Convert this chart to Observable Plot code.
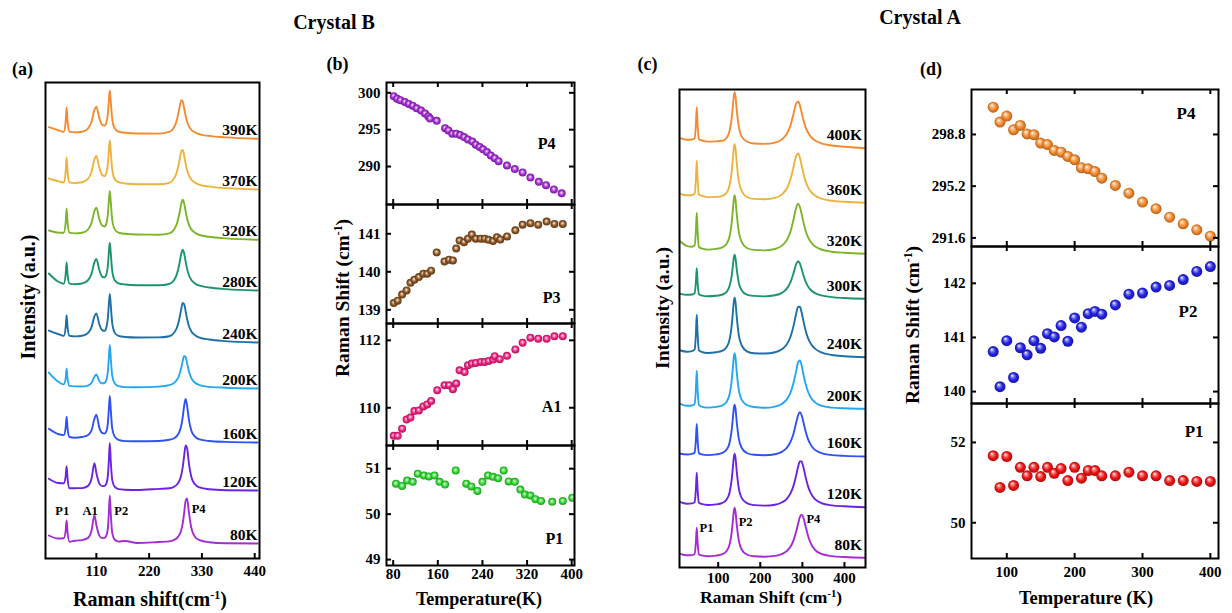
<!DOCTYPE html>
<html><head><meta charset="utf-8">
<script src="https://cdn.jsdelivr.net/npm/d3@7"></script>
<script src="https://cdn.jsdelivr.net/npm/@observablehq/plot@0.6"></script>
<style>
body{margin:0;background:#fff;}
#fig{position:relative;width:1232px;height:613px;overflow:hidden;font-family:'Liberation Serif','Times New Roman',Times,serif;font-weight:bold;color:#000;}
#fig svg{position:absolute;overflow:visible;}
.lbl{position:absolute;transform:translate(-50%,-50%);white-space:nowrap;line-height:1;}
.rot{transform:translate(-50%,-50%) rotate(-90deg);}
sup{font-size:0.6em;vertical-align:0.6em;line-height:0;}
</style></head><body>
<div id="fig"></div>
<script>
// ================= DATA =================
// ---- Panel (a): Crystal B Raman spectra (Raman shift in cm^-1, intensity in a.u.) ----
const shiftA = [11,30,42,46,48,50,54,65,80,92,100,106,110,116,122,127,131,134,136,138,140,143,148,156,170,195,240,262,272,278,283,287,290,293,296,299,303,308,315,325,345,380,446];
const tempsA = ["390K","370K","320K","280K","240K","200K","160K","120K","80K"];
const stackA = [419.7,369,318.7,268,216,170,116,68,15];
const a390 = [11.6,8.6,7.0,17.1,31.4,17.1,7.1,6.4,7.1,10.0,17.0,28.8,32.1,21.1,14.1,13.2,16.3,25.1,37.8,48.3,37.3,19.9,10.6,7.2,6.0,5.3,5.2,6.9,11.6,19.1,30.5,38.6,37.3,30.5,23.1,17.4,12.5,9.0,6.6,4.5,2.9,1.4,0];
const a370 = [11.0,8.3,7.0,17.6,32.4,17.6,7.1,6.4,7.2,10.3,17.7,30.1,33.6,22.0,14.5,13.5,16.7,25.6,38.7,49.0,38.2,20.4,10.7,7.3,6.0,5.3,5.2,6.7,11.1,17.8,28.6,38.3,39.6,33.9,26.0,19.5,13.8,9.8,7.0,4.7,2.9,1.4,0];
const a320 = [9.3,7.2,7.0,17.1,31.4,17.1,7.1,6.4,7.1,10.0,17.0,28.8,32.1,21.1,14.2,13.3,16.4,25.6,38.6,48.9,38.1,20.3,10.7,7.2,6.0,5.3,5.1,6.5,10.4,16.3,26.0,36.3,40.0,36.3,28.6,21.5,15.0,10.4,7.3,4.8,3.0,1.4,0];
const a280 = [17.0,9.0,6.8,15.8,28.4,15.8,6.9,6.3,7.0,10.0,16.8,28.4,31.6,20.8,13.9,13.1,16.2,25.0,37.9,47.8,37.4,19.9,10.5,7.2,6.0,5.3,5.2,6.5,10.5,16.6,26.5,36.9,40.7,36.9,29.1,21.9,15.2,10.5,7.3,4.8,3.0,1.4,0];
const a240 = [12.0,8.5,6.6,15.2,27.3,15.2,6.7,6.1,6.7,9.3,15.4,26.2,29.1,18.5,12.4,11.6,15.3,24.7,38.0,48.5,37.7,19.6,10.1,6.6,5.5,5.0,5.1,6.3,9.8,15.0,23.7,33.9,39.6,38.3,31.3,23.7,16.3,11.1,7.6,4.9,3.0,1.4,0];
const a200 = [16.0,7.0,4.1,9.8,20.0,9.8,2.6,2.1,2.0,2.9,5.6,11.8,14.0,7.4,5.1,5.6,8.8,17.1,30.7,43.5,30.5,13.1,5.2,2.3,1.4,1.3,1.9,3.3,5.6,8.7,13.8,20.9,27.7,32.6,31.5,25.4,17.0,10.3,6.0,3.3,1.6,0.8,0];
const a160 = [13.7,8.5,7.4,14.9,25.7,13.9,5.5,4.8,5.5,7.3,12.1,23.7,27.8,15.1,9.6,8.9,11.3,19.8,33.3,46.5,33.0,14.3,6.1,2.7,1.4,1.2,1.5,2.7,4.3,6.6,10.6,17.0,25.5,36.9,43.5,36.9,22.3,11.8,6.1,3.1,1.5,0.6,0];
const a120 = [11.7,7.5,7.2,14.1,24.3,12.1,2.2,2.3,2.4,4.4,12.0,27.3,17.5,7.1,4.4,4.7,7.2,14.7,29.8,47.6,29.6,10.6,3.8,1.4,0.8,0.5,1.6,2.2,3.8,6.0,9.6,15.5,23.3,34.8,45.1,42.6,26.7,13.6,6.5,3.1,1.2,0.3,0];
const a80  = [8.0,5.0,5.2,12.5,23.0,11.0,1.7,2.8,3.4,5.4,13.0,28.3,18.5,8.1,5.4,5.7,8.2,15.2,30.3,48.1,30.1,10.8,4.0,1.9,2.5,0.5,1.5,2.1,3.6,5.5,8.6,13.6,20.2,30.6,42.6,45.1,30.6,15.5,7.1,3.3,1.3,0.3,0];
const ticksA = [110,220,330,440];

// ---- Panel (b): Crystal B mode positions vs temperature ----
const tP4b = [81,87,93,101,108,115,122,130,137,143,146,158,173,179,186,193,200,207,214,222,228,235,241,248,255,262,269,284,298,312,326,341,354,368,382];
const vP4b = [299.55,299.2,299.0,298.76,298.5,298.26,297.9,297.6,297.2,296.8,296.5,296.2,295.2,294.9,294.45,294.45,294.27,294.0,293.67,293.4,292.97,292.66,292.34,291.97,291.5,291.14,290.73,290.13,289.67,289.2,288.5,287.93,287.47,286.9,286.36];
const tP3b = [81,88,96,104,111,118,126,134,141,148,158,172,180,187,193,199,207,214,221,228,237,244,251,259,266,272,284,299,312,326,340,355,369,384];
const vP3b = [139.18,139.24,139.40,139.51,139.71,139.79,139.86,139.95,139.95,140.03,140.51,140.27,140.32,140.30,140.61,140.82,140.78,140.87,140.98,140.87,140.87,140.87,140.84,140.81,140.91,140.85,140.93,141.09,141.24,141.28,141.24,141.32,141.26,141.26];
const tA1b = [81,88,96,104,111,118,126,134,141,148,159,172,180,187,193,199,208,214,221,228,237,244,251,259,262,271,284,299,312,326,340,355,369,384];
const vA1b = [109.17,109.17,109.38,109.65,109.71,109.90,109.92,110.04,110.10,110.20,110.52,110.67,110.67,110.55,110.72,111.11,111.06,111.26,111.31,111.33,111.36,111.36,111.39,111.43,111.53,111.44,111.54,111.73,111.93,112.08,112.05,112.05,112.12,112.12];
const tP1b = [85,96,105,115,124,135,144,154,163,173,192,211,220,231,240,250,259,268,278,287,298,308,316,326,335,345,365,384,401];
const vP1b = [50.67,50.62,50.74,50.71,50.89,50.85,50.83,50.85,50.71,50.65,50.96,50.67,50.61,50.51,50.71,50.85,50.82,50.79,50.96,50.72,50.71,50.54,50.43,50.41,50.33,50.29,50.27,50.29,50.36];
const ticksTb = [80,160,240,320,400];

// ---- Panel (c): Crystal A Raman spectra ----
const shiftC = [10,25,38,44,47,49,51,54,60,75,95,110,120,127,132,135,137,139,141,144,149,156,168,185,210,235,252,263,272,279,285,290,294,298,302,307,313,320,330,345,370,400,450];
const tempsC = ["400K","360K","320K","300K","240K","200K","160K","120K","80K"];
const stackC = [419.3,364.7,313.7,268.7,210.3,158.7,111,60.3,9.7];
const c400 = [10,8.5,8.7,10.0,24.0,41.0,23.8,9.2,7.8,6.6,6.8,7.4,10.2,17.2,30.0,43.2,52.1,56.0,52.1,38.4,21.1,11.6,6.7,4.7,4.3,5.6,9.1,14.4,23.2,34.4,44.3,46.8,43.0,36.2,29.1,21.8,15.9,11.5,7.7,4.9,2.7,1.4,0];
const c360 = [9.0,7.5,7.6,9.1,24.0,42.0,23.8,8.5,7.1,5.7,5.9,7.0,10.1,17.5,31.0,45.0,54.4,58.5,54.4,39.9,21.6,11.6,5.8,3.9,3.5,4.9,8.7,14.3,23.8,35.9,46.6,49.3,45.2,37.9,30.2,22.4,15.9,11.2,7.2,4.1,2.0,1.0,0];
const c320 = [12.3,8.0,7.1,8.4,23.0,41.0,22.5,6.9,5.4,4.2,4.9,6.5,10.1,17.5,31.0,45.0,54.4,58.5,54.4,39.9,21.6,11.6,5.8,3.9,3.4,4.8,8.4,13.7,22.6,34.3,45.6,50.0,47.1,40.2,32.4,24.0,17.0,11.8,7.6,4.3,2.1,1.0,0];
const c300 = [5.0,4.0,4.3,5.7,17.0,30.5,16.5,4.7,3.4,2.5,3.0,4.3,7.0,12.7,23.0,33.7,40.9,44.0,40.9,29.8,15.8,8.4,4.1,2.9,2.4,3.5,6.2,10.2,16.9,25.7,34.3,37.6,35.4,30.2,24.3,18.0,12.7,8.8,5.7,3.4,1.7,0.8,0];
const c240 = [6.7,5.5,6.1,7.8,23.6,42.5,23.3,7.0,5.4,4.2,4.9,6.6,10.2,17.7,31.5,45.7,55.3,59.5,55.3,40.6,21.9,11.7,5.9,3.9,3.7,4.9,8.1,12.9,20.7,31.3,43.2,50.5,50.5,45.1,37.2,27.8,19.6,13.5,8.6,4.8,2.2,1.0,0];
const c200 = [5.0,3.0,3.3,4.9,20.0,38.0,19.5,3.9,2.1,1.2,1.9,3.5,7.1,14.5,28.0,42.0,51.4,55.5,51.4,36.9,18.6,8.9,3.8,1.8,1.0,2.2,5.1,9.4,16.4,26.0,37.2,46.8,48.3,44.0,35.3,26.0,17.5,11.3,6.4,3.1,1.2,0.5,0];
const c160 = [2.7,2.0,2.6,4.0,17.0,32.5,16.8,3.5,2.2,1.4,2.1,3.6,6.9,13.8,26.3,39.3,48.0,51.8,48.0,34.6,17.6,8.5,3.5,1.7,1.3,2.3,4.9,8.7,14.8,23.1,33.4,41.5,44.2,41.5,35.2,26.3,17.9,11.6,6.6,3.4,1.4,0.6,0];
const c120 = [5.0,3.5,3.8,5.1,18.4,34.4,18.2,4.6,3.3,2.2,2.8,4.4,7.7,14.7,27.5,40.7,49.6,53.5,49.6,35.9,18.6,9.1,4.1,2.1,1.6,2.5,5.0,8.4,14.0,21.6,31.4,40.7,45.8,45.8,40.7,31.4,21.6,14.0,8.0,4.1,1.8,0.9,0];
const c80  = [4.0,2.5,2.7,3.9,15.8,30.0,15.7,3.5,2.4,1.6,2.2,3.7,6.9,13.4,25.5,37.9,46.3,50.0,46.3,33.4,17.1,8.1,3.3,1.5,1.1,1.9,4.0,6.8,11.3,17.5,25.7,34.4,40.6,43.2,40.6,32.6,22.6,14.4,8.0,4.0,1.7,0.8,0];
const ticksC = [100,200,300,400];

// ---- Panel (d): Crystal A mode positions vs temperature ----
const tempD = [80,90,100,110,120,130,140,150,160,170,180,190,200,210,220,230,240,260,280,300,320,340,360,380,400];
const p4D = [300.70,299.66,300.08,299.12,299.43,298.84,298.78,298.20,298.10,297.69,297.57,297.27,297.04,296.48,296.41,296.22,295.76,295.25,294.71,294.09,293.63,293.04,292.58,292.16,291.72];
const p2D = [140.74,140.09,140.94,140.26,140.81,140.68,140.94,140.80,141.07,141.01,141.22,140.93,141.36,141.19,141.44,141.48,141.43,141.60,141.80,141.82,141.93,141.96,142.07,142.22,142.31];
const p1D = [51.67,50.88,51.65,50.93,51.38,51.17,51.38,51.15,51.38,51.23,51.35,51.05,51.38,51.11,51.30,51.30,51.17,51.17,51.26,51.17,51.17,51.05,51.05,51.03,51.03];
const ticksTd = [100,200,300,400];

// ================= STYLE =================
const colorsA = ["#f58a30","#eeb33d","#7cb52c","#1b9470","#1d70a8","#25a8f0","#2e52f4","#6b24e0","#a42cd2"];
const colorsC = ["#f58a30","#eeb33d","#7cb52c","#1b9470","#1d70a8","#25a8f0","#2e52f4","#6b24e0","#a42cd2"];
const FONT = "'Liberation Serif','Times New Roman',Times,serif";
const baseStyle = {fontFamily: FONT, fontWeight: "bold", fontSize: "15px", background: "transparent", overflow: "visible", color: "black"};
const fig = document.getElementById("fig");

// sphere gradients for the scatter dots
const defs = d3.select("body").append("svg").attr("width",0).attr("height",0)
  .style("position","absolute").style("left","0").style("top","0").append("defs");
function sphere(id, color, fx, fy) {
  const g = defs.append("radialGradient").attr("id", id)
    .attr("cx","50%").attr("cy","50%").attr("r","50%").attr("fx",fx).attr("fy",fy);
  g.append("stop").attr("offset","0%").attr("stop-color","#ffffff");
  g.append("stop").attr("offset","28%").attr("stop-color", d3.interpolateRgb("#ffffff", color)(0.55));
  g.append("stop").attr("offset","62%").attr("stop-color", color);
  g.append("stop").attr("offset","100%").attr("stop-color", d3.color(color).darker(1).formatHex());
}
sphere("gP4b", "#a52ad6", "45%", "40%");
sphere("gP3b", "#8a521f", "45%", "40%");
sphere("gA1b", "#f2207f", "45%", "40%");
sphere("gP1b", "#2fd62f", "45%", "40%");
sphere("gP4d", "#f58a2e", "35%", "30%");
sphere("gP2d", "#2222e6", "35%", "30%");
sphere("gP1d", "#f21414", "35%", "30%");

function place(el, left, top) { el.style.left = left + "px"; el.style.top = top + "px"; fig.appendChild(el); }
function label(html, x, y, size, rot) {
  const d = document.createElement("div");
  d.className = "lbl" + (rot ? " rot" : "");
  d.style.left = x + "px"; d.style.top = y + "px"; d.style.fontSize = size + "px";
  d.innerHTML = html; fig.appendChild(d);
}

// ================= SPECTRA PANELS =================
function spectra({grid, series, temps, stack, colors, xDomain, yDomain, ticks, innerW, innerH, labelX, labelDy, peaks, peakSize, padX}) {
  const rows = [];
  series.forEach((vals, i) => vals.forEach((v, j) => rows.push({shift: grid[j], I: stack[i] + v, T: temps[i]})));
  const lab = temps.map((t, i) => ({t, y: stack[i]}));
  return Plot.plot({
    width: innerW + 4, height: innerH + 2 + 30,
    marginLeft: 2, marginRight: 2, marginTop: 2, marginBottom: 30,
    x: {domain: xDomain}, y: {domain: yDomain, axis: null},
    color: {domain: temps, range: colors},
    style: baseStyle,
    marks: [
      Plot.line(rows, {x: "shift", y: "I", z: "T", stroke: "T", curve: "monotone-x", strokeWidth: 1.9}),
      Plot.text(lab, {x: labelX, y: "y", text: "t", textAnchor: "end", dy: labelDy, fontSize: 15.5}),
      Plot.text(peaks, {x: "x", y: "y", text: "t", fontSize: peakSize}),
      Plot.frame({stroke: "black", strokeWidth: 2}),
      Plot.tickX(ticks, {x: d => d, insetTop: innerH - 5, strokeWidth: 2}),
      Plot.axisX({ticks, tickSize: 0, tickPadding: padX, label: null})
    ]
  });
}

place(spectra({
  grid: shiftA, series: [a390,a370,a320,a280,a240,a200,a160,a120,a80], temps: tempsA, stack: stackA, colors: colorsA,
  xDomain: [4, 450], yDomain: [0, 476], ticks: ticksA, innerW: 214, innerH: 476, labelX: 446, labelDy: -8.5,
  peaks: [{t:"P1", x:39, y:stackA[8]+33},{t:"A1", x:97, y:stackA[8]+33},{t:"P2", x:162, y:stackA[8]+33},{t:"P4", x:323, y:stackA[8]+35}],
  peakSize: 12.5, padX: 7
}), 43, 80);

place(spectra({
  grid: shiftC, series: [c400,c360,c320,c300,c240,c200,c160,c120,c80], temps: tempsC, stack: stackC, colors: colorsC,
  xDomain: [8, 450], yDomain: [0, 478], ticks: ticksC, innerW: 186, innerH: 478, labelX: 442, labelDy: -13,
  peaks: [{t:"P1", x:72, y:stackC[8]+30},{t:"P2", x:165, y:stackC[8]+35.6},{t:"P4", x:326, y:stackC[8]+39.3}],
  peakSize: 12.5, padX: 5
}), 677, 87);

// ================= SCATTER PANELS =================
function scatter({T, V, xDomain, yDomain, xTicks, yTicks, yFmt, innerW, innerH, mL, mB, fill, r, tag, tagX, tagY, showX, tagFs, padY, padX}) {
  const marks = [
    Plot.dot(T.map((t, i) => ({t, v: V[i]})), {x: "t", y: "v", r, fill, clip: true}),
    Plot.text([tag], {x: tagX, y: tagY, text: d => d, fontSize: tagFs}),
    Plot.frame({stroke: "black", strokeWidth: 2}),
    Plot.tickX(xTicks, {x: d => d, insetTop: innerH - 5, strokeWidth: 2}),
    Plot.tickX(xTicks, {x: d => d, insetBottom: innerH - 5, strokeWidth: 2}),
    Plot.tickY(yTicks, {y: d => d, insetRight: innerW - 5, strokeWidth: 2}),
    Plot.tickY(yTicks, {y: d => d, insetLeft: innerW - 5, strokeWidth: 2}),
    Plot.axisY({ticks: yTicks, tickFormat: yFmt, tickSize: 0, tickPadding: padY, label: null})
  ];
  if (showX) marks.push(Plot.axisX({ticks: xTicks, tickSize: 0, tickPadding: padX, label: null}));
  return Plot.plot({
    width: innerW + mL + 3, height: innerH + 2 + mB,
    marginLeft: mL, marginRight: 3, marginTop: 2, marginBottom: mB,
    x: {domain: xDomain, axis: showX ? undefined : null}, y: {domain: yDomain},
    style: baseStyle,
    marks
  });
}

// (b) Crystal B: frame x 386..574
const bX = [68, 405];
const bCommon = {xDomain: bX, xTicks: ticksTb, innerW: 188, mL: 45, r: 4, tagFs: 16, padY: 6, padX: 3};
place(scatter({...bCommon, T: tP4b, V: vP4b, yDomain: [284.85, 301.4], yTicks: [290,295,300], yFmt: d3.format("d"),
  innerH: 122, mB: 2, fill: "url(#gP4b)", tag: "P4", tagX: 355, tagY: 293.1, showX: false}), 341, 80);
place(scatter({...bCommon, T: tP3b, V: vP3b, yDomain: [138.64, 141.77], yTicks: [139,140,141], yFmt: d3.format("d"),
  innerH: 119, mB: 2, fill: "url(#gP3b)", tag: "P3", tagX: 364, tagY: 139.32, showX: false}), 341, 202);
place(scatter({...bCommon, T: tA1b, V: vA1b, yDomain: [108.88, 112.5], yTicks: [110,112], yFmt: d3.format("d"),
  innerH: 122, mB: 2, fill: "url(#gA1b)", tag: "A1", tagX: 364, tagY: 110.04, showX: false}), 341, 321);
place(scatter({...bCommon, T: tP1b, V: vP1b, yDomain: [48.87, 51.51], yTicks: [49,50,51], yFmt: d3.format("d"),
  innerH: 120, mB: 30, fill: "url(#gP1b)", tag: "P1", tagX: 369, tagY: 49.46, showX: true}), 341, 443);

// (d) Crystal A: frame x 971..1218
const dX = [48, 412];
const dCommon = {xDomain: dX, xTicks: ticksTd, innerW: 247, mL: 50, r: 5.5, tagFs: 17, padY: 6, padX: 8};
place(scatter({...dCommon, T: tempD, V: p4D, yDomain: [291.0, 301.93], yTicks: [291.6,295.2,298.8], yFmt: d3.format(".1f"),
  innerH: 157, mB: 2, fill: "url(#gP4d)", tag: "P4", tagX: 364, tagY: 300.26, showX: false}), 921, 87);
place(scatter({...dCommon, T: tempD, V: p2D, yDomain: [139.78, 142.68], yTicks: [140,141,142], yFmt: d3.format("d"),
  innerH: 157, mB: 2, fill: "url(#gP2d)", tag: "P2", tagX: 367, tagY: 141.48, showX: false}), 921, 244);
place(scatter({...dCommon, T: tempD, V: p1D, yDomain: [49.11, 52.97], yTicks: [50,52], yFmt: d3.format("d"),
  innerH: 155, mB: 30, fill: "url(#gP1d)", tag: "P1", tagX: 376, tagY: 52.27, showX: true}), 921, 401);

// ================= TEXT =================
label("Crystal B", 334, 22, 20);
label("Crystal A", 920, 17, 20);
label("(a)", 22.5, 69, 18);
label("(b)", 337.5, 64, 18);
label("(c)", 647.5, 64, 18);
label("(d)", 931, 69, 18);
label("Intensity (a.u.)", 27.5, 296.5, 20, true);
label("Raman shift(cm<sup>-1</sup>)", 150, 599, 20);
label("Raman Shift (cm<sup>-1</sup>)", 343, 297.5, 19.5, true);
label("Temperature(K)", 479, 599, 18);
label("Intensity (a.u.)", 662.5, 308.3, 19.5, true);
label("Raman Shift (cm<sup>-1</sup>)", 771, 597.5, 17.5);
label("Raman Shift (cm<sup>-1</sup>)", 912.5, 325, 19.5, true);
label("Temperature (K)", 1086, 597.5, 18.5);
</script>
</body></html>
